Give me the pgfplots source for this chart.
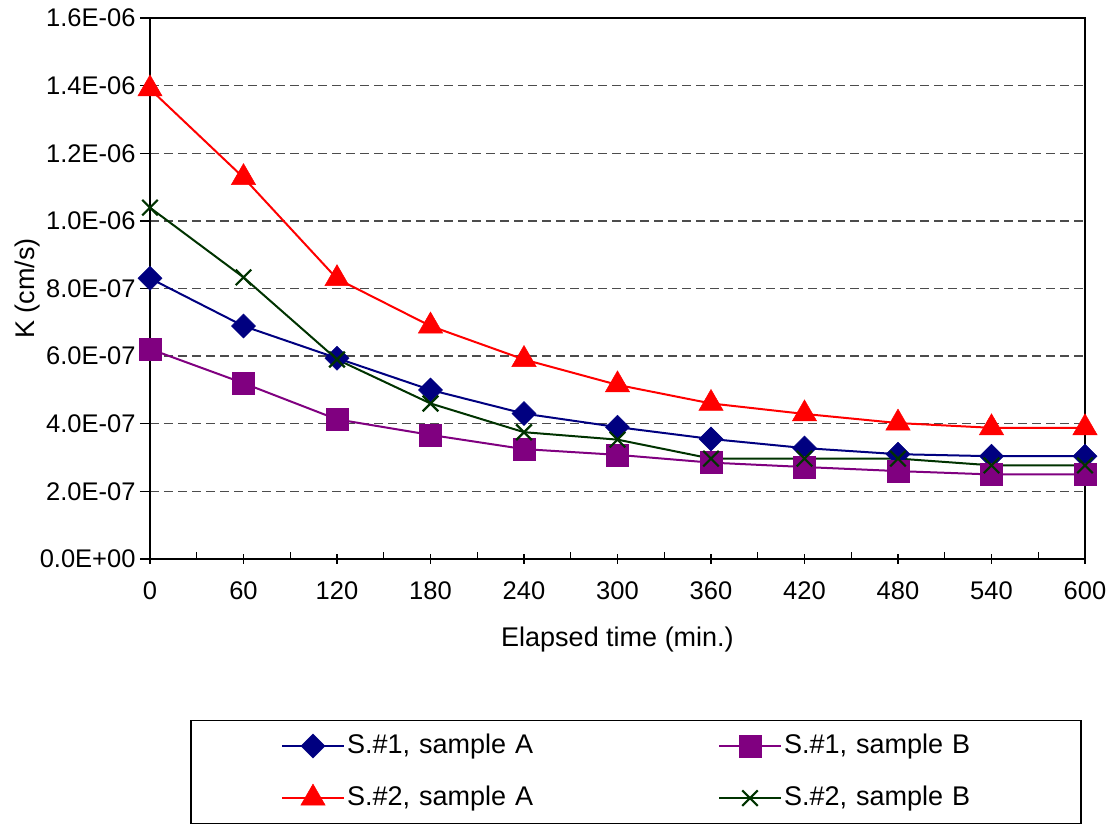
\documentclass[border=0pt]{standalone}
\usepackage{fontspec}
\setmainfont{Liberation Sans}
\usepackage{pgfplots}
\pgfplotsset{compat=1.18}
\definecolor{sAblue}{RGB}{0,0,128}
\definecolor{sBpurple}{RGB}{128,0,128}
\definecolor{sAred}{RGB}{255,0,0}
\definecolor{sBgreen}{RGB}{0,51,0}
\begin{document}
\begin{tikzpicture}
\useasboundingbox (0,0) rectangle (1112pt,824pt);
\begin{axis}[
  at={(150pt,265pt)}, anchor=south west,
  scale only axis, width=935pt, height=541pt,
  xmin=0, xmax=600, ymin=0, ymax=1.6e-6,
  xtick={0,60,...,600},
  ytick={0,2e-7,4e-7,6e-7,8e-7,1e-6,1.2e-6,1.4e-6,1.6e-6},
  yticklabels={0.0E+00,2.0E-07,4.0E-07,6.0E-07,8.0E-07,1.0E-06,1.2E-06,1.4E-06,1.6E-06},
  scaled y ticks=false,
  font=\fontsize{27}{32}\selectfont,
  ticklabel style={font=\fontsize{25.5}{30}\selectfont},
  /pgf/number format/assume math mode=true,
  axis line style={line width=2.5pt, black},
  tick pos=left,
  tick align=center,
  ytick align=outside,
  major tick length=10pt,
  tick style={line width=1.3pt, black},
  xticklabel style={yshift=-14pt},
  yticklabel style={xshift=-1pt},
  extra x ticks={30,90,150,210,270,330,390,450,510,570},
  extra x tick labels={},
  extra x tick style={tick align=inside, major tick length=7pt, grid=none},
  ymajorgrids,
  grid style={line width=1.3pt, black!70, dash pattern=on 9pt off 5pt},
  xlabel={Elapsed time (min.)},
  ylabel={K (cm/s)},
  xlabel style={at={(axis description cs:0.5,-0.1497)}, anchor=center},
  ylabel style={at={(axis description cs:-0.1305,0.5)}, anchor=center},
  legend style={at={(0.5198,-0.2976)}, anchor=north, draw=black, line width=1.2pt,
    legend columns=2, inner xsep=90pt, inner ysep=11.5pt,
    font=\fontsize{27}{32}\selectfont,
    nodes={text width=205pt, text height=19pt, text depth=5pt, inner sep=2pt},
    /tikz/every even column/.append style={column sep=164pt},
    row sep=24pt},
  legend cell align=left,
  legend image code/.code={\draw[mark repeat=2,mark phase=2] plot coordinates {(0pt,0pt) (31pt,0pt) (62pt,0pt)};},
]
\addplot[color=sAblue, line width=2pt, mark=square*, mark size=8.5pt, mark options={solid, rotate=45, fill=sAblue, draw=sAblue, line width=0.5pt}]
coordinates {(0,8.30e-7) (60,6.89e-7) (120,5.94e-7) (180,5.00e-7) (240,4.30e-7) (300,3.90e-7) (360,3.55e-7) (420,3.28e-7) (480,3.10e-7) (540,3.04e-7) (600,3.04e-7)};
\addlegendentry{S.\#1, sample A}
\addplot[color=sBpurple, line width=2pt, mark=square*, mark size=11pt, mark options={solid, fill=sBpurple, draw=sBpurple, line width=0.5pt}]
coordinates {(0,6.21e-7) (60,5.20e-7) (120,4.13e-7) (180,3.67e-7) (240,3.25e-7) (300,3.08e-7) (360,2.85e-7) (420,2.72e-7) (480,2.60e-7) (540,2.50e-7) (600,2.50e-7)};
\addlegendentry{S.\#1, sample B}
\addplot[color=sAred, line width=2pt, mark=triangle*, mark size=14pt, mark options={solid, fill=sAred, draw=sAred, line width=0.5pt}]
coordinates {(0,1.39e-6) (60,1.128e-6) (120,8.29e-7) (180,6.89e-7) (240,5.90e-7) (300,5.15e-7) (360,4.60e-7) (420,4.29e-7) (480,4.02e-7) (540,3.88e-7) (600,3.88e-7)};
\addlegendentry{S.\#2, sample A}
\addplot[color=sBgreen, line width=2pt, mark=x, mark size=11pt, mark options={solid, draw=sBgreen, line width=2.2pt}]
coordinates {(0,1.039e-6) (60,8.33e-7) (120,5.90e-7) (180,4.60e-7) (240,3.75e-7) (300,3.53e-7) (360,2.97e-7) (420,2.97e-7) (480,2.97e-7) (540,2.77e-7) (600,2.77e-7)};
\addlegendentry{S.\#2, sample B}
\end{axis}
\end{tikzpicture}
\end{document}
